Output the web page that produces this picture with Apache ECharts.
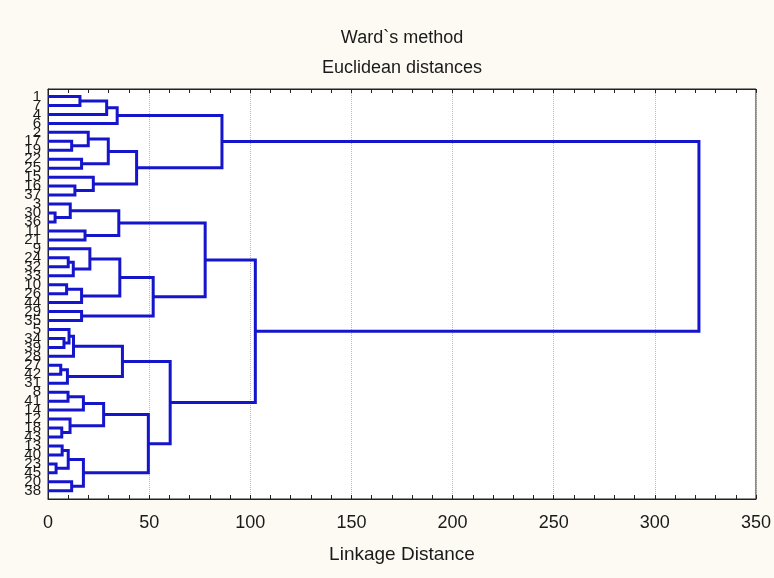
<!DOCTYPE html>
<html>
<head>
<meta charset="utf-8">
<title>Ward`s method</title>
<script src="https://cdn.jsdelivr.net/npm/echarts@6.0.0/dist/echarts.min.js"></script>
<style>
  html, body { margin: 0; padding: 0; background: #fcfaf2; }
  #chart { width: 774px; height: 578px; }
</style>
</head>
<body>
<div id="chart"></div>
<script>
// leaf labels, top to bottom
const leafLabels = [
  '1', '7', '4', '6', '2', '17', '19', '22', '25', '15', '16', '37',
  '3', '30', '36', '11', '21', '9', '24', '32', '33', '10', '26', '44',
  '29', '35', '5', '34', '39', '28', '27', '42', '31', '8', '41', '14',
  '12', '18', '43', '13', '40', '23', '45', '20', '38'
]

// merges: ids < 45 are leaves (by row), id 45 + k is the node made by merge k
const mergeLeft = [
  0, 45, 46, 5, 4, 7, 49, 10, 9, 51, 47,
  13, 12, 15, 57, 18, 60, 17, 21, 63, 62, 24, 65, 59,
  27, 26, 70, 30, 72, 71, 33, 75, 37, 36, 76, 39, 41, 80, 43, 82, 79, 74, 68, 55
]
const mergeRight = [
  1, 2, 3, 6, 48, 8, 50, 11, 52, 53, 54,
  14, 56, 16, 58, 19, 20, 61, 22, 23, 64, 25, 66, 67,
  28, 69, 29, 31, 32, 73, 34, 35, 38, 77, 78, 40, 42, 81, 44, 83, 84, 85, 86, 87
]
const mergeHeight = [
  15.8, 29, 34.2, 11.7, 19.9, 16.6, 29.8, 13.3, 22.4, 43.8, 86,
  3.5, 11, 18.3, 35, 10, 12.5, 20.7, 9.2, 16.6, 35.5, 16.6, 52, 77.7,
  7.9, 10.4, 12.6, 6.3, 9.6, 36.8, 9.9, 17.5, 6.8, 10.9, 27.5, 7, 4, 10, 11.7, 17.5, 49.6, 60.4, 102.5, 321.8
]

const xTicks = [0, 50, 100, 150, 200, 250, 300, 350]

// row position and height of every node
const nLeaf = leafLabels.length
const pos = leafLabels.map((d, i) => i)
const hgt = leafLabels.map(() => 0)
const links = []
mergeHeight.forEach((h, k) => {
  const a = mergeLeft[k]
  const b = mergeRight[k]
  pos[nLeaf + k] = (pos[a] + pos[b]) / 2
  hgt[nLeaf + k] = h
  links.push([h, pos[a], pos[b], hgt[a], hgt[b]])
})

const yMin = -0.84
const yMax = nLeaf - 1 + 0.92
// blank labels at both ends so echarts' min/max overlap check drops those, not real leaves
const yLabelValues = [yMin].concat(pos.slice(0, nLeaf), [yMax])

const font = "'Liberation Sans', Arial, sans-serif"
const chart = echarts.init(document.getElementById('chart'))

const tickStyle = { color: '#222', width: 1 }

chart.setOption({
  backgroundColor: '#fcfaf2',
  textStyle: { fontFamily: font },
  title: {
    text: 'Ward`s method\nEuclidean distances',
    left: 402,
    top: 23,
    padding: 0,
    textAlign: 'center',
    textStyle: { fontSize: 18, fontWeight: 'normal', color: '#1a1a1a', lineHeight: 30, fontFamily: font }
  },
  grid: {
    left: 48, right: 17, top: 89, bottom: 79,
    show: true, backgroundColor: '#ffffff', borderColor: '#222', borderWidth: 1
  },
  xAxis: [
    {
      type: 'value',
      position: 'bottom',
      min: xTicks[0],
      max: xTicks[xTicks.length - 1],
      interval: 50,
      name: 'Linkage Distance',
      nameLocation: 'middle',
      nameGap: 46,
      nameTextStyle: { fontSize: 19, color: '#1a1a1a', fontFamily: font },
      axisLine: { show: true, onZero: false, lineStyle: tickStyle },
      axisTick: { show: true, inside: true, length: 4, lineStyle: tickStyle },
      minorTick: { show: true, splitNumber: 5, length: 4, lineStyle: tickStyle },
      axisLabel: { fontSize: 18, color: '#1a1a1a', margin: 15, fontFamily: font },
      splitLine: { show: true, lineStyle: { color: '#b8b8b8', type: 'dotted', width: 1 } }
    },
    {
      type: 'value',
      position: 'top',
      min: xTicks[0],
      max: xTicks[xTicks.length - 1],
      interval: 50,
      axisLine: { show: true, onZero: false, lineStyle: tickStyle },
      axisTick: { show: true, inside: true, length: 4, lineStyle: tickStyle },
      minorTick: { show: true, splitNumber: 5, length: 4, lineStyle: tickStyle },
      axisLabel: { show: false },
      splitLine: { show: false }
    }
  ],
  yAxis: {
    type: 'value',
    inverse: true,
    min: yMin,
    max: yMax,
    axisLine: { show: true, onZero: false, lineStyle: tickStyle },
    axisTick: { show: false },
    splitLine: { show: false },
    axisLabel: {
      customValues: yLabelValues,
      formatter: (v) => leafLabels[Math.round(v)] || '',
      showMinLabel: false,
      showMaxLabel: false,
      hideOverlap: false,
      fontSize: 15,
      color: '#1a1a1a',
      margin: 7,
      fontFamily: font
    }
  },
  series: [
    {
      type: 'custom',
      xAxisIndex: 0,
      data: links,
      encode: { x: [0, 3, 4], y: [1, 2] },
      silent: true,
      renderItem: function (params, api) {
        const p1 = api.coord([api.value(3), api.value(1)])
        const p2 = api.coord([api.value(0), api.value(1)])
        const p3 = api.coord([api.value(0), api.value(2)])
        const p4 = api.coord([api.value(4), api.value(2)])
        return {
          type: 'polyline',
          shape: { points: [p1, p2, p3, p4] },
          style: { stroke: '#1515cc', lineWidth: 3, fill: null, lineJoin: 'miter' }
        }
      }
    }
  ]
})
</script>
</body>
</html>
